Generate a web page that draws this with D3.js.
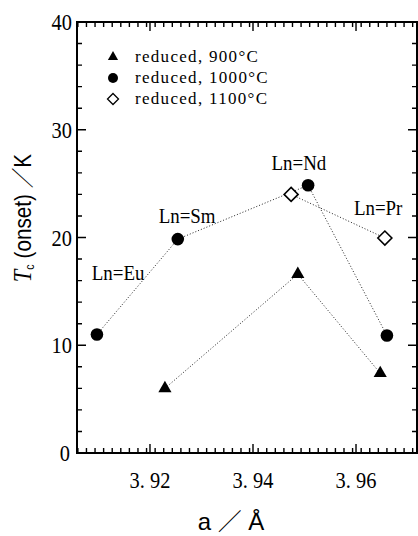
<!DOCTYPE html>
<html>
<head>
<meta charset="utf-8">
<script src="https://cdn.jsdelivr.net/npm/d3@7"></script>
<style>
  html, body { margin: 0; padding: 0; background: #fff; }
  svg { display: block; }
</style>
</head>
<body>
<div id="chart"></div>
<script>
// ---- data ----
const a900 = [3.9229, 3.9487, 3.9647];
const tc900 = [6.0, 16.6, 7.4];
const a1000 = [3.9097, 3.9254, 3.9507, 3.9660];
const tc1000 = [11.0, 19.85, 24.85, 10.9];
const a1100 = [3.9474, 3.9656];
const tc1100 = [24.0, 19.95];

const lnLabels = ['Ln=Eu', 'Ln=Sm', 'Ln=Nd', 'Ln=Pr'];
const lnLabelA = [3.9138, 3.9272, 3.9489, 3.9643];
const lnLabelTc = [16.05, 21.35, 26.26, 22.1];

const legendLabels = ['reduced, 900°C', 'reduced, 1000°C', 'reduced, 1100°C'];
const xTickValues = [3.92, 3.94, 3.96];
const xTickLabels = ['3. 92', '3. 94', '3. 96'];
const yTickValues = [0, 10, 20, 30, 40];

const width = 418, height = 536;
const box = { left: 77, top: 22, right: 417, bottom: 453 };

const svg = d3.select('#chart').append('svg')
    .attr('width', width)
    .attr('height', height);

const x = d3.scaleLinear().domain([3.90583, 3.97184]).range([box.left, box.right]);
const y = d3.scaleLinear().domain([0, 40]).range([box.bottom, box.top]);

const serif = '"Liberation Serif", "DejaVu Serif", serif';
const sans = '"Liberation Sans", Arial, sans-serif';

// frame
svg.append('path')
    .attr('d', `M${box.left},${box.top}H${box.right}V${box.bottom}H${box.left}Z`)
    .style('fill', 'none')
    .style('stroke', '#000')
    .style('stroke-width', '2px');

// ---- inward ticks on all four sides ----
const xMinor = d3.range(3.906, 3.972, 0.02 / 12);
const yMinor = d3.range(0, 41, 2);

function xTickPath(vals, len) {
    return vals.map(v => `M${x(v)},${box.bottom}v${-len}M${x(v)},${box.top}v${len}`).join('');
}
function yTickPath(vals, len) {
    return vals.map(v => `M${box.left},${y(v)}h${len}M${box.right},${y(v)}h${-len}`).join('');
}
svg.append('path')
    .attr('d', xTickPath(xMinor, 5) + xTickPath(xTickValues, 9) + yTickPath(yMinor, 5) + yTickPath(yTickValues, 9))
    .style('fill', 'none')
    .style('stroke', '#000')
    .style('stroke-width', '1.4px');

// tick labels
svg.append('g').selectAll('text')
    .data(xTickValues)
    .join('text')
    .attr('transform', d => `translate(${x(d)},488) scale(0.85,1)`)
    .attr('text-anchor', 'middle')
    .style('font-family', serif)
    .style('font-size', '24px')
    .style('fill', '#000')
    .text((d, i) => xTickLabels[i]);

svg.append('g').selectAll('text')
    .data(yTickValues)
    .join('text')
    .attr('transform', d => `translate(${d === 0 ? 70 : 72},${y(d) + 8}) scale(0.85,1)`)
    .attr('text-anchor', 'end')
    .style('font-family', serif)
    .style('font-size', '24px')
    .style('fill', '#000')
    .text(d => d);

// ---- series lines ----
const line = d3.line().x(d => x(d[0])).y(d => y(d[1]));
const seriesLines = [
    d3.zip(a900, tc900),
    d3.zip(a1000, tc1000),
    d3.zip(a1100, tc1100)
];
svg.append('g').selectAll('path')
    .data(seriesLines)
    .join('path')
    .attr('d', line)
    .attr('fill', 'none')
    .attr('stroke', '#222')
    .attr('stroke-width', 1)
    .attr('stroke-dasharray', '1,2');

// ---- markers ----
const triangle = d3.symbol().type(d3.symbolTriangle).size(75);
const diamond = 'M0,-7L7,0L0,7L-7,0Z';

svg.append('g').selectAll('path')
    .data(d3.zip(a900, tc900))
    .join('path')
    .attr('transform', d => `translate(${x(d[0])},${y(d[1])})`)
    .attr('d', triangle)
    .attr('fill', '#000');

svg.append('g').selectAll('circle')
    .data(d3.zip(a1000, tc1000))
    .join('circle')
    .attr('cx', d => x(d[0]))
    .attr('cy', d => y(d[1]))
    .attr('r', 6.3)
    .attr('fill', '#000');

svg.append('g').selectAll('path')
    .data(d3.zip(a1100, tc1100))
    .join('path')
    .attr('transform', d => `translate(${x(d[0])},${y(d[1])})`)
    .attr('d', diamond)
    .attr('fill', '#fff')
    .attr('stroke', '#000')
    .attr('stroke-width', 1.6);

// ---- Ln labels ----
svg.append('g').selectAll('text')
    .data(lnLabels)
    .join('text')
    .attr('transform', (d, i) => `translate(${x(lnLabelA[i])},${y(lnLabelTc[i])}) scale(0.86,1)`)
    .attr('text-anchor', 'middle')
    .attr('font-family', serif)
    .attr('font-size', 22)
    .text(d => d);

// ---- legend ----
const legend = svg.append('g').attr('transform', 'translate(113,57)');
legend.append('path').attr('d', d3.symbol().type(d3.symbolTriangle).size(45)).attr('fill', '#000');
legend.append('circle').attr('cy', 21).attr('r', 5).attr('fill', '#000');
legend.append('path').attr('d', 'M0,-5.5L5.5,0L0,5.5L-5.5,0Z').attr('transform', 'translate(0,42)')
    .attr('fill', '#fff').attr('stroke', '#000').attr('stroke-width', 1.3);
legend.selectAll('text')
    .data(legendLabels)
    .join('text')
    .attr('x', 22)
    .attr('y', (d, i) => i * 21 + 5)
    .attr('font-family', serif)
    .attr('font-size', 17)
    .attr('letter-spacing', 1.3)
    .text(d => d);

// ---- axis titles ----
const yTitle = svg.append('text')
    .attr('transform', 'translate(31,218) rotate(-90) scale(0.9,1)')
    .attr('text-anchor', 'middle')
    .attr('font-family', sans)
    .attr('font-size', 23);
yTitle.append('tspan').attr('font-family', serif).attr('font-style', 'italic').attr('font-size', 25).text('T');
yTitle.append('tspan').attr('font-size', 12).attr('dy', 3).text('c');
yTitle.append('tspan').attr('dy', -3).text(' (onset) ');
yTitle.append('tspan').attr('font-family', '"Noto Sans CJK JP", sans-serif').attr('font-weight', 300).text('／');
yTitle.append('tspan').text('K');

const xTitle = svg.append('text')
    .attr('x', 231)
    .attr('y', 530)
    .attr('text-anchor', 'middle')
    .attr('font-family', sans)
    .attr('font-size', 24);
xTitle.append('tspan').text('a ');
xTitle.append('tspan').attr('font-family', '"Noto Sans CJK JP", sans-serif').attr('font-weight', 300).text('／');
xTitle.append('tspan').text(' Å');
</script>
</body>
</html>
